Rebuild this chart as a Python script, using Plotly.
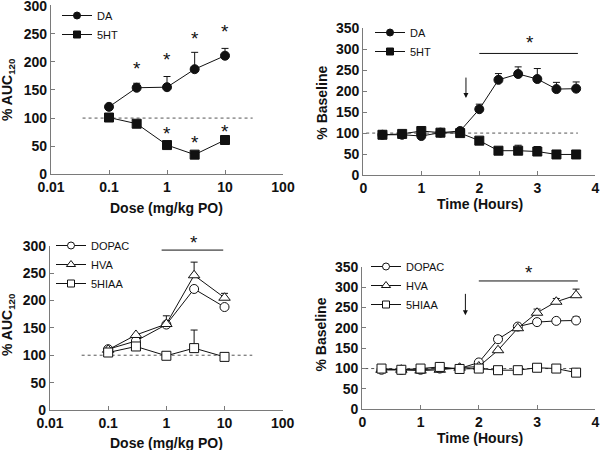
import math
import plotly.graph_objects as go

# ---------------- data ----------------
dose = [0.1, 0.3, 1, 3, 10]
dose_ticks = [0.01, 0.1, 1, 10, 100]
dose_ticktext = ["0.01", "0.1", "1", "10", "100"]

da_auc = [120, 154, 155, 187, 211]
da_auc_err = [0, 8, 19, 30, 13]
ht_auc = [101, 90, 52, 35, 61]
ht_auc_err = [0, 0, 0, 0, 0]

time_h = [0.33, 0.67, 1.0, 1.33, 1.67, 2.0, 2.33, 2.67, 3.0, 3.33, 3.67]
da_time = [96, 96, 93, 101, 105, 157, 227, 241, 229, 205, 206]
da_time_err = [0, 0, 0, 0, 0, 12, 15, 17, 25, 16, 16]
ht_time = [96, 98, 105, 101, 100, 82, 58, 58, 56, 49, 49]
ht_time_err = [0, 0, 0, 0, 0, 0, 0, 13, 12, 0, 0]

dopac_auc = [111, 126, 156, 221, 188]
dopac_auc_err = [0, 0, 0, 0, 0]
hva_auc = [110, 137, 157, 246, 205]
hva_auc_err = [0, 0, 15, 24, 8]
hiaa_auc = [105, 116, 99, 113, 97]
hiaa_auc_err = [0, 0, 0, 33, 0]

dopac_time = [97, 97, 97, 100, 100, 115, 172, 203, 214, 217, 218]
dopac_time_err = [0, 0, 0, 0, 0, 0, 8, 0, 0, 0, 9]
hva_time = [97, 97, 95, 97, 102, 105, 145, 199, 237, 264, 280]
hva_time_err = [0, 0, 0, 0, 0, 0, 0, 0, 9, 8, 15]
hiaa_time = [100, 97, 100, 104, 99, 100, 96, 96, 102, 100, 90]
hiaa_time_err = [0, 0, 0, 0, 0, 0, 0, 0, 0, 0, 0]

# significance marks (star centres)
star_p1_x = [0.3, 1, 3, 10, 1, 3, 10]
star_p1_y = [195, 212, 249, 261, 80, 64, 84]
star_p2_x = [2.87]
star_p2_y = [326]
star_p3_x = [3]
star_p3_y = [313]
star_p4_x = [2.87]
star_p4_y = [346]

bar_dose_x = [0.83, 9.5]
bar_dose_y = [292, 292]
bar_time_x = [2.0, 3.7]
bar_time_y_top = [290, 290]
bar_time_y_bot = [315, 315]

baseline_dose_x = [0.035, 30]
baseline_time_x = [0.05, 3.7]
baseline_y = [100, 100]

arrow_x = 1.77
arrow_top = (236, 184)
arrow_bot = (287, 231)

y_ranges = {"y": 300.5, "y2": 350, "y3": 300, "y4": 350}
x_ranges = {"x": (-2, 2), "x2": (0, 4), "x3": (-2, 2), "x4": (0, 4)}

FONT = "Liberation Sans, Arial, sans-serif"
BLACK = "#111111"
AXIS = "#7a7a7a"

fig = go.Figure()


def series(x, y, err, name, xa, ya, legend, symbol, filled, size):
    mk = dict(symbol=symbol, color=BLACK if filled else "white",
              line=dict(color=BLACK, width=1))
    fig.add_trace(go.Scatter(
        x=x, y=y, name=name, xaxis=xa, yaxis=ya, showlegend=False,
        mode="lines+markers",
        line=dict(color=BLACK, width=1),
        marker=dict(**mk, size=size),
        error_y=dict(type="data", symmetric=False, array=err,
                     arrayminus=[0] * len(err), color=BLACK,
                     thickness=1, width=3.5),
    ))
    # legend entry with smaller sample marker
    fig.add_trace(go.Scatter(
        x=[None], y=[None], name=name, xaxis=xa, yaxis=ya, legend=legend,
        mode="lines+markers", line=dict(color=BLACK, width=1),
        marker=dict(**mk, size=7 if symbol != "triangle-up" else 8),
    ))


def helper_line(x, y, xa, ya, dash, color):
    fig.add_trace(go.Scatter(x=x, y=y, xaxis=xa, yaxis=ya, mode="lines",
                             line=dict(color=color, width=1, dash=dash),
                             showlegend=False, hoverinfo="skip"))


def stars(x, y, xa, ya, logx):
    # placed in axis-domain units so that stars above the y range still show
    x0, x1 = x_ranges[xa]
    for xi, yi in zip(x, y):
        xv = math.log10(xi) if logx else xi
        fig.add_annotation(x=(xv - x0) / (x1 - x0), y=yi / y_ranges[ya],
                           xref=xa + " domain", yref=ya + " domain",
                           xanchor="center", yanchor="middle",
                           text="*", showarrow=False,
                           font=dict(family=FONT, size=19, color=BLACK),
                           yshift=-4)


# baselines first (drawn beneath)
helper_line(baseline_dose_x, baseline_y, "x", "y", "dot", "#555555")
helper_line(baseline_time_x, baseline_y, "x2", "y2", "dot", "#555555")
helper_line(baseline_dose_x, baseline_y, "x3", "y3", "dot", "#555555")
helper_line(baseline_time_x, baseline_y, "x4", "y4", "dot", "#555555")

# panel 1
series(dose, da_auc, da_auc_err, "DA", "x", "y", "legend", "circle", True, 9)
series(dose, ht_auc, ht_auc_err, "5HT", "x", "y", "legend", "square", True, 9)
stars(star_p1_x, star_p1_y, "x", "y", True)

# panel 2
series(time_h, da_time, da_time_err, "DA", "x2", "y2", "legend2", "circle", True, 9)
series(time_h, ht_time, ht_time_err, "5HT", "x2", "y2", "legend2", "square", True, 9)
helper_line(bar_time_x, bar_time_y_top, "x2", "y2", "solid", BLACK)
stars(star_p2_x, star_p2_y, "x2", "y2", False)

# panel 3
series(dose, dopac_auc, dopac_auc_err, "DOPAC", "x3", "y3", "legend3", "circle", False, 9)
series(dose, hva_auc, hva_auc_err, "HVA", "x3", "y3", "legend3", "triangle-up", False, 10)
series(dose, hiaa_auc, hiaa_auc_err, "5HIAA", "x3", "y3", "legend3", "square", False, 9)
helper_line(bar_dose_x, bar_dose_y, "x3", "y3", "solid", BLACK)
stars(star_p3_x, star_p3_y, "x3", "y3", True)

# panel 4
series(time_h, dopac_time, dopac_time_err, "DOPAC", "x4", "y4", "legend4", "circle", False, 9)
series(time_h, hva_time, hva_time_err, "HVA", "x4", "y4", "legend4", "triangle-up", False, 10)
series(time_h, hiaa_time, hiaa_time_err, "5HIAA", "x4", "y4", "legend4", "square", False, 9)
helper_line(bar_time_x, bar_time_y_bot, "x4", "y4", "solid", BLACK)
stars(star_p4_x, star_p4_y, "x4", "y4", False)

# arrows
for xa, ya, (yt, yb) in [("x2", "y2", arrow_top), ("x4", "y4", arrow_bot)]:
    fig.add_annotation(x=arrow_x, y=yb, ax=arrow_x, ay=yt, xref=xa, yref=ya,
                       axref=xa, ayref=ya, showarrow=True, arrowhead=2,
                       arrowsize=1, arrowwidth=1, arrowcolor=BLACK, text="")

tickfont = dict(family=FONT, size=14, color=BLACK, weight="bold")
common_ax = dict(showgrid=False, zeroline=False, showline=True, linecolor=AXIS,
                 linewidth=1.3, ticks="inside", ticklen=4, tickcolor=AXIS,
                 tickfont=tickfont, fixedrange=True, automargin=False,
                 ticklabeloverflow="allow")

W, H = 600, 450


def xd(a, b):
    return [a / W, b / W]


def yd(bottom_px, top_px):
    return [(H - bottom_px) / H, (H - top_px) / H]


fig.update_layout(
    template="none",
    width=W, height=H, margin=dict(l=0, r=0, t=0, b=0, autoexpand=False),
    paper_bgcolor="white", plot_bgcolor="white", showlegend=True,
    hovermode=False,
    xaxis=dict(**common_ax, type="log", range=list(x_ranges["x"]),
               domain=xd(51, 283), tickvals=dose_ticks,
               ticktext=dose_ticktext, anchor="y"),
    yaxis=dict(**common_ax, range=[0, y_ranges["y"]], domain=yd(174.3, 5.4),
               dtick=50, anchor="x"),
    xaxis2=dict(**common_ax, range=list(x_ranges["x2"]),
                domain=xd(363.3, 595.3), dtick=1, anchor="y2"),
    yaxis2=dict(**common_ax, range=[0, y_ranges["y2"]], domain=yd(175, 28.3),
                dtick=50, anchor="x2"),
    xaxis3=dict(**common_ax, type="log", range=list(x_ranges["x3"]),
                domain=xd(50, 282.7), tickvals=dose_ticks,
                ticktext=dose_ticktext, anchor="y3"),
    yaxis3=dict(**common_ax, range=[0, y_ranges["y3"]], domain=yd(410, 245.7),
                dtick=50, anchor="x3"),
    xaxis4=dict(**common_ax, range=list(x_ranges["x4"]),
                domain=xd(362.3, 595.3), dtick=1, anchor="y4"),
    yaxis4=dict(**common_ax, range=[0, y_ranges["y4"]],
                domain=yd(409.3, 266.7), dtick=50, anchor="x4"),
)

legend_style = dict(font=dict(family=FONT, size=11, color=BLACK),
                    bgcolor="rgba(0,0,0,0)", itemwidth=30, tracegroupgap=0,
                    xanchor="left", yanchor="top", itemclick=False)
fig.update_layout(
    legend=dict(**legend_style, x=57 / W, y=(H - 1) / H),
    legend2=dict(**legend_style, x=370 / W, y=(H - 18) / H),
    legend3=dict(**legend_style, x=51 / W, y=(H - 231) / H),
    legend4=dict(**legend_style, x=366 / W, y=(H - 252) / H),
)

title_font = dict(family=FONT, size=14, color=BLACK, weight="bold")
titles = [
    ("Dose (mg/kg PO)", 166.7, 207.7, 0),
    ("Time (Hours)", 480, 204, 0),
    ("Dose (mg/kg PO)", 166.7, 443.3, 0),
    ("Time (Hours)", 480, 438.3, 0),
    ("% AUC<sub>120</sub>", 8, 90, -90),
    ("% Baseline", 321.7, 103, -90),
    ("% AUC<sub>120</sub>", 8, 325, -90),
    ("% Baseline", 320.5, 335, -90),
]
for txt, px, py, ang in titles:
    fig.add_annotation(text=txt, x=px / W, y=(H - py) / H, xref="paper",
                       yref="paper", showarrow=False, textangle=ang,
                       font=title_font, xanchor="center", yanchor="middle")

fig.write_html("out.html", config={"displayModeBar": False},
               post_script="document.body.style.margin='0px';")
